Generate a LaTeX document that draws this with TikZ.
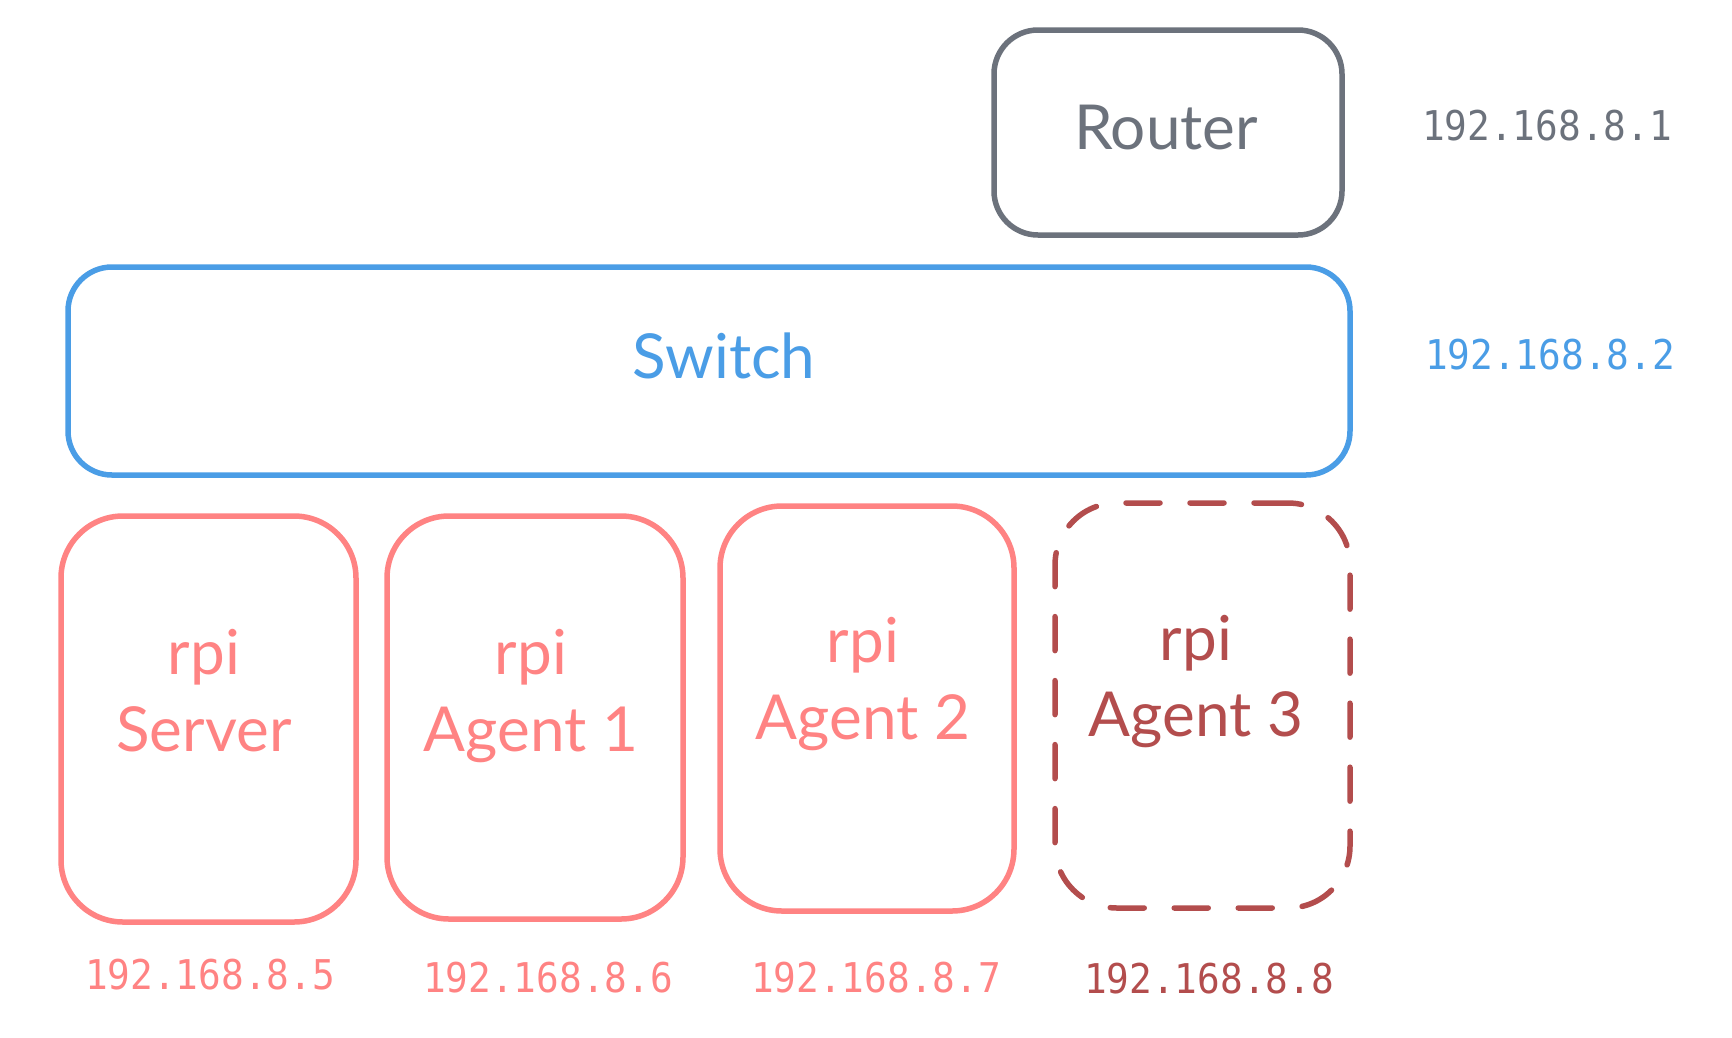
\documentclass[tikz,border=0pt]{standalone}
\usepackage{fontspec}
\newfontfamily\handfont{Lato}
\newfontfamily\monofont{DejaVu Sans Mono}
\definecolor{rgray}{HTML}{6C727C}
\definecolor{sblue}{HTML}{4A9DE6}
\definecolor{ppink}{HTML}{FF8383}
\definecolor{dred}{HTML}{B34D4D}
\tikzset{
  box/.style={draw, line width=5.5pt, rounded corners=#1, inner sep=0pt},
  box/.default=44pt,
  hand/.style={font=\handfont\fontsize{62}{70}\selectfont, anchor=base, inner sep=0pt},
  ip/.style={font=\monofont\fontsize{41}{48}\selectfont, anchor=base, inner sep=0pt, xscale=0.92},
}
\begin{document}
\begin{tikzpicture}[x=1pt,y=-1pt]
\useasboundingbox[fill=white] (0,0) rectangle (1732,1037);
% boxes
\node[box, draw=rgray, minimum width=348pt, minimum height=205pt] (router) at (1168,132.5) {};
\node[box, draw=sblue, minimum width=1282pt, minimum height=208pt] (switch) at (709,371) {};
\node[box=62pt, draw=ppink, minimum width=295pt, minimum height=406pt] (server) at (208.5,719) {};
\node[box=62pt, draw=ppink, minimum width=296pt, minimum height=403pt] (agent1) at (535,717.5) {};
\node[box=62pt, draw=ppink, minimum width=294pt, minimum height=405pt] (agent2) at (867,708.5) {};
\node[box=62pt, draw=dred, dash pattern=on 34pt off 30pt, line cap=round, minimum width=295pt, minimum height=405pt] (agent3) at (1202.5,705.5) {};
% labels
\node[hand, text=rgray] (routertxt) at (1166,149) {Router};
\node[hand, text=sblue] (switchtxt) at (724,378) {Switch};
\node[hand, text=ppink] (srvrpi) at (204,674) {rpi};
\node[hand, text=ppink] (srvname) at (204,751) {Server};
\node[hand, text=ppink] (a1rpi) at (531,674) {rpi};
\node[hand, text=ppink] (a1name) at (531,751) {Agent 1};
\node[hand, text=ppink] (a2rpi) at (863,662) {rpi};
\node[hand, text=ppink] (a2name) at (863,739) {Agent 2};
\node[hand, text=dred] (a3rpi) at (1196,660) {rpi};
\node[hand, text=dred] (a3name) at (1196,736) {Agent 3};
% IPs
\node[ip, text=rgray] (ip1) at (1547,140) {192.168.8.1};
\node[ip, text=sblue] (ip2) at (1550,369) {192.168.8.2};
\node[ip, text=ppink] (ip5) at (210,989) {192.168.8.5};
\node[ip, text=ppink] (ip6) at (548,992) {192.168.8.6};
\node[ip, text=ppink] (ip7) at (876,992) {192.168.8.7};
\node[ip, text=dred] (ip8) at (1209,993) {192.168.8.8};
\end{tikzpicture}
\end{document}
